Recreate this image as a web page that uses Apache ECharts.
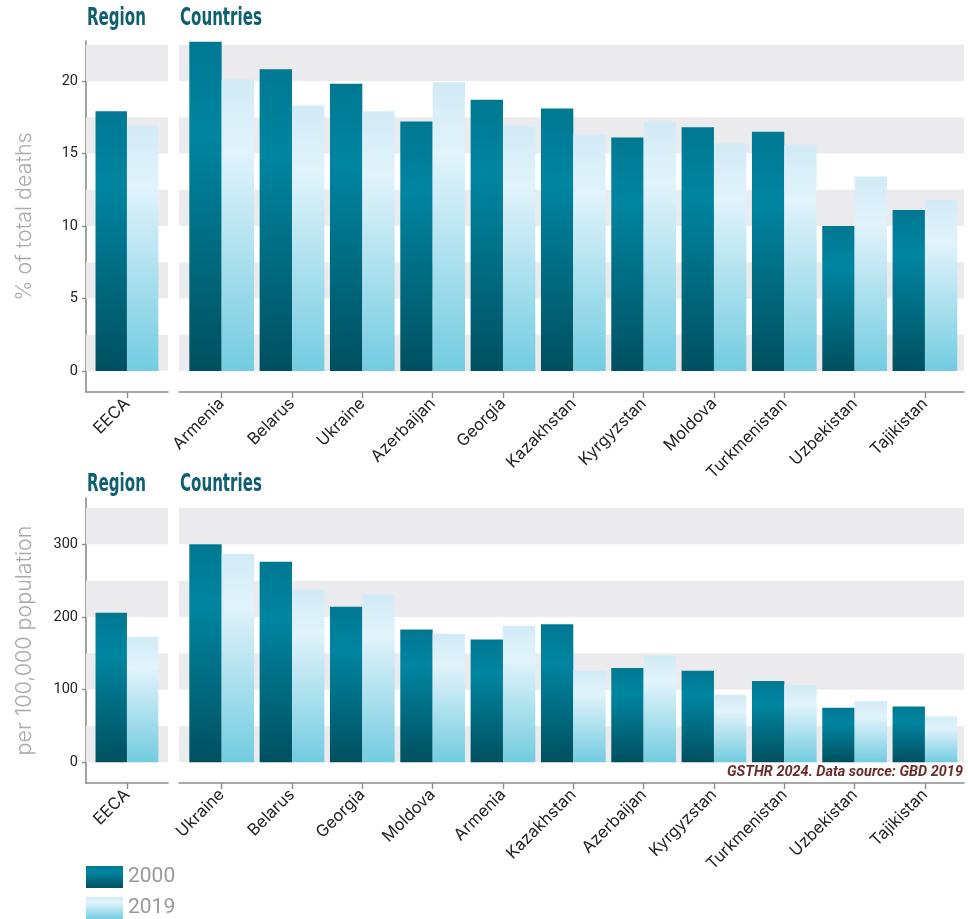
<!DOCTYPE html>
<html>
<head>
<meta charset="utf-8">
<script src="https://cdn.jsdelivr.net/npm/echarts@6/dist/echarts.min.js"></script>
<style>
  html, body { margin: 0; padding: 0; background: #ffffff; }
  #chart { width: 968px; height: 919px; }
</style>
</head>
<body>
<div id="chart"></div>
<script>
// ---- data ----
const regionCats = ['EECA'];

// share of total deaths (%)
const pctCountries = ['Armenia', 'Belarus', 'Ukraine', 'Azerbaijan', 'Georgia', 'Kazakhstan', 'Kyrgyzstan', 'Moldova', 'Turkmenistan', 'Uzbekistan', 'Tajikistan'];
const pctRegion2000 = [17.9];
const pctRegion2019 = [16.9];
const pct2000 = [22.7, 20.8, 19.8, 17.2, 18.7, 18.1, 16.1, 16.8, 16.5, 10.0, 11.1];
const pct2019 = [20.1, 18.3, 17.9, 19.9, 16.9, 16.3, 17.2, 15.7, 15.6, 13.4, 11.8];
const pctTicks = [0, 5, 10, 15, 20];
const pctBands = [[0, 2.5], [5, 7.5], [10, 12.5], [15, 17.5], [20, 22.5]];
const pctRange = [-1.45, 22.75];

// deaths per 100,000 population
const rateCountries = ['Ukraine', 'Belarus', 'Georgia', 'Moldova', 'Armenia', 'Kazakhstan', 'Azerbaijan', 'Kyrgyzstan', 'Turkmenistan', 'Uzbekistan', 'Tajikistan'];
const rateRegion2000 = [206];
const rateRegion2019 = [173];
const rate2000 = [300, 276, 214, 183, 169, 190, 130, 126, 112, 75, 77];
const rate2019 = [287, 238, 231, 177, 188, 126, 147, 93, 106, 84, 63];
const rateTicks = [0, 100, 200, 300];
const rateBands = [[0, 50], [100, 150], [200, 250], [300, 350]];
const rateRange = [-28.4, 363.8];

const years = ['2000', '2019'];

// ---- styling ----
const fill2000 = {
  type: 'linear', x: 0, y: 0, x2: 0, y2: 1,
  colorStops: [
    { offset: 0, color: '#007892' },
    { offset: 0.28, color: '#0085a1' },
    { offset: 1, color: '#00505f' }
  ]
};
const fill2019 = {
  type: 'linear', x: 0, y: 0, x2: 0, y2: 1,
  colorStops: [
    { offset: 0, color: '#d2ebf6' },
    { offset: 0.25, color: '#e1f3fb' },
    { offset: 1, color: '#72cce0' }
  ]
};
const axisGrey = '#8c8c8c';
const bandGrey = '#ebebed';
const tickFont = 'Inter, Roboto, sans-serif';
const headFont = '"DejaVu Sans Condensed", "Liberation Sans Narrow", sans-serif';

const grids = [], xAxes = [], yAxes = [], series = [], graphics = [];

// one facet: a background frame with bands, and an inset grid holding the bars
function facet(opt) {
  const bgIdx = grids.length;
  grids.push({ left: opt.left, width: opt.width, top: opt.top, height: opt.height });
  const dataIdx = grids.length;
  grids.push({ left: opt.dataLeft, width: opt.dataWidth, top: opt.top, height: opt.height });

  xAxes.push({
    gridIndex: bgIdx, type: 'value', min: 0, max: 1,
    axisLine: { show: true, onZero: false, lineStyle: { color: axisGrey, width: 1.6 } },
    axisTick: { show: false }, axisLabel: { show: false }, splitLine: { show: false }
  });
  yAxes.push({
    gridIndex: bgIdx, type: 'value', min: opt.range[0], max: opt.range[1],
    name: opt.yName || '', nameLocation: 'middle', nameGap: 50,
    nameTextStyle: { color: '#aaaaaa', fontSize: 21.5, fontFamily: tickFont, fontWeight: 300 },
    axisLine: { show: !!opt.withAxis, onZero: false, lineStyle: { color: axisGrey, width: 1.6 } },
    axisTick: { show: !!opt.withAxis, length: 4, customValues: opt.ticks, lineStyle: { color: axisGrey, width: 1.4 } },
    axisLabel: { show: !!opt.withAxis, customValues: opt.ticks, color: '#222222', fontSize: 14.5, margin: 8, fontFamily: 'Roboto, sans-serif' },
    splitLine: { show: false }
  });
  series.push({
    type: 'line', xAxisIndex: xAxes.length - 1, yAxisIndex: yAxes.length - 1,
    data: [], silent: true, z: 0,
    markArea: {
      silent: true,
      itemStyle: { color: bandGrey },
      data: opt.bands.map(b => [{ yAxis: b[0] }, { yAxis: b[1] }])
    }
  });

  xAxes.push({
    gridIndex: dataIdx, type: 'category', data: opt.cats,
    axisLine: { show: false, onZero: false },
    axisTick: { show: true, alignWithLabel: true, length: 6, lineStyle: { color: axisGrey, width: 1.4 } },
    axisLabel: { rotate: 45, color: '#222222', fontSize: 16.5, margin: 9, fontFamily: tickFont, interval: 0 },
    splitLine: { show: false }
  });
  yAxes.push({
    gridIndex: dataIdx, type: 'value', min: opt.range[0], max: opt.range[1], show: false
  });
  const xi = xAxes.length - 1, yi = yAxes.length - 1;
  series.push({
    name: years[0], type: 'bar', xAxisIndex: xi, yAxisIndex: yi, data: opt.v2000,
    barGap: '0%', barCategoryGap: '8%', itemStyle: { color: fill2000 }, z: 2
  });
  series.push({
    name: years[1], type: 'bar', xAxisIndex: xi, yAxisIndex: yi, data: opt.v2019,
    barGap: '0%', barCategoryGap: '8%', itemStyle: { color: fill2019 }, z: 2
  });
}

// panel headings in a narrow bold face
function heading(text, x, y) {
  graphics.push({
    type: 'text', x: x, y: y, scaleX: 0.67, silent: true,
    style: {
      text: text, fill: '#0e5f70',
      font: 'bold 25px ' + headFont,
      textVerticalAlign: 'top', verticalAlign: 'top'
    }
  });
}

// upper chart: % of total deaths
facet({ left: 86, width: 82, dataLeft: 92.8, dataWidth: 68.3, top: 41, height: 351,
  range: pctRange, bands: pctBands, ticks: pctTicks, withAxis: true, yName: '% of total deaths',
  cats: regionCats, v2000: pctRegion2000, v2019: pctRegion2019 });
facet({ left: 179, width: 785, dataLeft: 186.5, dataWidth: 773.6, top: 41, height: 351,
  range: pctRange, bands: pctBands, ticks: pctTicks,
  cats: pctCountries, v2000: pct2000, v2019: pct2019 });

// lower chart: per 100,000 population
facet({ left: 86, width: 82, dataLeft: 92.8, dataWidth: 68.3, top: 498, height: 285,
  range: rateRange, bands: rateBands, ticks: rateTicks, withAxis: true, yName: 'per 100,000 population',
  cats: regionCats, v2000: rateRegion2000, v2019: rateRegion2019 });
facet({ left: 179, width: 785, dataLeft: 186.5, dataWidth: 773.6, top: 498, height: 285,
  range: rateRange, bands: rateBands, ticks: rateTicks,
  cats: rateCountries, v2000: rate2000, v2019: rate2019 });

heading('Region', 87, 6);
heading('Countries', 180, 6);
heading('Region', 87, 472);
heading('Countries', 180, 472);

const chart = echarts.init(document.getElementById('chart'), null, { renderer: 'canvas' });
chart.setOption({
  animation: false,
  backgroundColor: '#ffffff',
  title: {
    text: 'GSTHR 2024. Data source: GBD 2019', right: 5, top: 765, padding: 0,
    textStyle: { fontFamily: 'Roboto, sans-serif', fontStyle: 'italic', fontWeight: 'bold', fontSize: 14.5, color: '#6d2a2c' }
  },
  legend: {
    data: years, orient: 'vertical', left: 86, top: 866, padding: 0,
    itemWidth: 37, itemHeight: 22, itemGap: 9, icon: 'rect',
    textStyle: { fontSize: 21, color: '#999999', fontFamily: 'Roboto, sans-serif', padding: [0, 0, 0, 0] },
    selectedMode: false
  },
  grid: grids,
  xAxis: xAxes,
  yAxis: yAxes,
  series: series,
  graphic: graphics
});
</script>
</body>
</html>
